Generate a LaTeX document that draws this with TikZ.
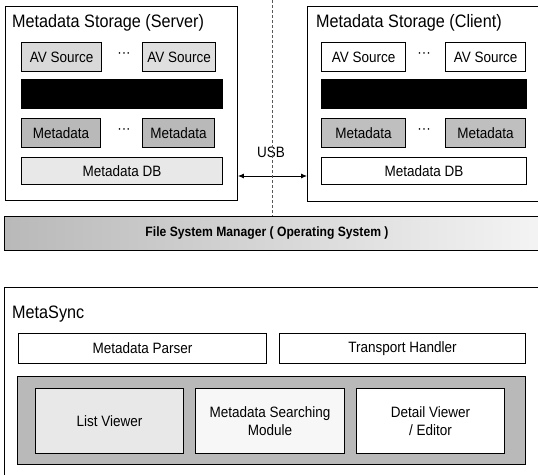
\documentclass[tikz,border=0pt]{standalone}
\usepackage{fontspec}
\setmainfont{Liberation Sans}[FakeStretch=0.9]
\usetikzlibrary{arrows.meta}
\begin{document}
\begin{tikzpicture}[x=1pt,y=-1pt,
  frame/.style={draw, line width=0.9pt, anchor=north west, inner sep=0pt},
  box/.style={draw, line width=1.1pt, anchor=north west, inner sep=0pt, align=center, font=\fontsize{15}{18}\selectfont},
  ttl/.style={anchor=base west, inner sep=0pt, font=\fontsize{18}{20}\selectfont},
  lbl/.style={inner sep=0pt, font=\fontsize{15}{17}\selectfont},
  dotsl/.style={inner sep=0pt, font=\fontsize{15}{17}\selectfont}]
\useasboundingbox (0,0) rectangle (538,474);
\clip (0,0) rectangle (538,474);
\fill[white] (0,0) rectangle (538,474);

% dashed divider
\coordinate (dtop) at (272,0);

% Server storage
\node[frame, minimum width=232pt, minimum height=194pt] (srv) at (5,6) {};
\node[ttl] (srvt) at (12,27) {Metadata Storage (Server)};
\node[box, fill=gray!30, minimum width=80pt, minimum height=29pt] (sav1) at (21,42) {AV Source};
\node[box, fill=gray!25, minimum width=73pt, minimum height=29pt] (sav2) at (142,42) {AV Source};
\node[dotsl] (sdt1) at (124,55) {···};
\node[box, fill=black, minimum width=201pt, minimum height=29pt] (sbar) at (21,79) {};
\node[box, fill=gray!55, minimum width=79pt, minimum height=29pt] (smd1) at (21,118) {Metadata};
\node[box, fill=gray!55, minimum width=72pt, minimum height=29pt] (smd2) at (142,118) {Metadata};
\node[dotsl] (sdt2) at (124,131) {···};
\node[box, fill=gray!18, minimum width=201pt, minimum height=27pt] (sdb) at (21,157) {Metadata DB};

% Client storage
\node[frame, minimum width=240pt, minimum height=195pt] (cli) at (307,6) {};
\node[ttl] (clit) at (316,27) {Metadata Storage (Client)};
\node[box, fill=white, minimum width=84pt, minimum height=29pt] (cav1) at (321,42) {AV Source};
\node[box, fill=white, minimum width=80pt, minimum height=29pt] (cav2) at (445,42) {AV Source};
\node[dotsl] (cdt1) at (424,55) {···};
\node[box, fill=black, minimum width=205pt, minimum height=29pt] (cbar) at (321,79) {};
\node[box, fill=gray!50, minimum width=84pt, minimum height=29pt] (cmd1) at (321,118) {Metadata};
\node[box, fill=gray!50, minimum width=80pt, minimum height=29pt] (cmd2) at (445,118) {Metadata};
\node[dotsl] (cdt2) at (424,131) {···};
\node[box, fill=white, minimum width=205pt, minimum height=27pt] (cdb) at (321,157) {Metadata DB};

% USB link
\node[lbl] (usb) at (271,152) {USB};
\coordinate (usbrow) at (0,176);
\draw[line width=0.9pt, {Latex[length=6pt,width=5pt]}-{Latex[length=6pt,width=5pt]}]
  (srv.east |- usbrow) -- (cli.west |- usbrow);

% File system manager
\node[frame, left color=gray!55, right color=gray!8, minimum width=545pt, minimum height=34pt] (fsm) at (4,216) {};
\node[inner sep=0pt, font=\fontsize{13.5}{15}\selectfont\bfseries] (fsmt) at (267,233) {File System Manager ( Operating System )};
\draw[gray!70!black, line width=0.6pt, dash pattern=on 3pt off 2pt] (dtop) -- (dtop |- fsm.north);

% MetaSync
\node[frame, minimum width=545pt, minimum height=200pt] (ms) at (4,287) {};
\node[ttl] (mst) at (12,318) {MetaSync};
\node[box, fill=white, minimum width=248pt, minimum height=30pt] (parser) at (18,333) {Metadata Parser};
\node[box, fill=white, minimum width=246pt, minimum height=30pt] (th) at (279,333) {Transport Handler};
\node[box, fill=gray!55, minimum width=508pt, minimum height=88pt] (panel) at (17,376) {};
\node[box, fill=gray!18, minimum width=148pt, minimum height=65pt] (lv) at (35,388) {List Viewer};
\node[box, fill=gray!6, minimum width=149pt, minimum height=65pt] (msm) at (195,388) {Metadata Searching\\Module};
\node[box, fill=white, minimum width=148pt, minimum height=65pt] (dv) at (356,388) {Detail Viewer\\/ Editor};
\end{tikzpicture}
\end{document}
